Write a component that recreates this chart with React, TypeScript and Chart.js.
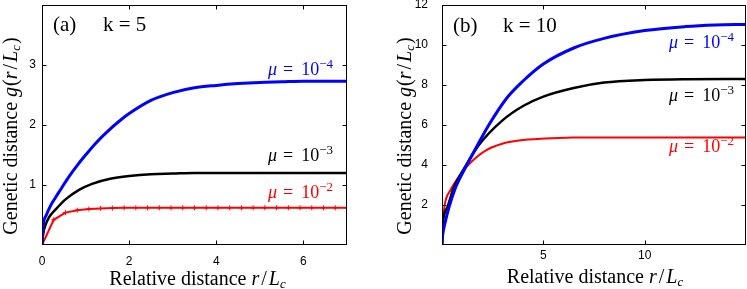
import React, { useEffect, useRef } from "react";
import { Chart, registerables } from "chart.js";

Chart.register(...registerables);

// ---------- Panel (a), k = 5 ----------
const aBlueR = [0, 0.03, 0.1, 0.2, 0.3, 0.45, 0.6, 0.8, 1.0, 1.25, 1.5, 1.75, 2.0, 2.5, 3.0, 3.5, 4.0, 4.5, 5.0, 5.5, 6.0, 6.5, 7.0];
const aBlueG = [0, 0.33, 0.5, 0.66, 0.78, 0.95, 1.12, 1.32, 1.5, 1.71, 1.89, 2.05, 2.19, 2.41, 2.54, 2.62, 2.66, 2.69, 2.71, 2.72, 2.73, 2.73, 2.73];

const aBlackR = [0, 0.03, 0.08, 0.16, 0.31, 0.54, 0.85, 1.15, 1.54, 2.0, 2.5, 3.0, 3.5, 4.0, 5.0, 6.0, 7.0];
const aBlackG = [0, 0.2, 0.33, 0.46, 0.59, 0.76, 0.92, 1.02, 1.1, 1.15, 1.18, 1.19, 1.2, 1.2, 1.2, 1.2, 1.2];

const aRedR = [0, 0.269, 0.538, 0.808, 1.077, 1.346, 1.615, 1.885, 2.154, 2.423, 2.692, 2.962, 3.231, 3.5, 3.769, 4.038, 4.308, 4.577, 4.846, 5.115, 5.385, 5.654, 5.923, 6.192, 6.462, 6.731, 7.0];
const aRedG = [0, 0.42, 0.54, 0.58, 0.6, 0.61, 0.615, 0.62, 0.62, 0.62, 0.62, 0.62, 0.62, 0.62, 0.62, 0.62, 0.62, 0.62, 0.62, 0.62, 0.62, 0.62, 0.62, 0.62, 0.62, 0.62, 0.62];

const aXTicks = [0, 2, 4, 6];
const aYTicks = [1, 2, 3];

// ---------- Panel (b), k = 10 ----------
const bBlueR = [0, 0.04, 0.15, 0.34, 0.67, 1.16, 1.65, 2.31, 3.2, 4.0, 5.0, 6.5, 8.0, 10.0, 12.0, 13.5, 15.0];
const bBlueG = [0, 0.54, 1.1, 1.87, 2.88, 3.88, 4.8, 6.0, 7.35, 8.2, 9.05, 9.85, 10.33, 10.72, 10.92, 11.0, 11.03];

const bBlackR = [0, 0.04, 0.26, 0.58, 1.08, 1.82, 2.97, 4.0, 5.0, 6.5, 8.0, 10.0, 12.0, 15.0];
const bBlackG = [0, 1.04, 1.87, 2.88, 3.8, 5.0, 6.22, 6.95, 7.42, 7.85, 8.12, 8.25, 8.29, 8.3];

const bRedR = [0, 0.05, 0.14, 0.42, 0.75, 1.08, 1.49, 2.15, 2.97, 3.79, 5.1, 6.5, 8.0, 10.0, 12.0, 15.0];
const bRedG = [0, 1.2, 2.04, 2.75, 3.3, 3.75, 4.2, 4.72, 5.06, 5.22, 5.32, 5.37, 5.38, 5.38, 5.38, 5.38];

const bXTicks = [5, 10];
const bYTicks = [2, 4, 6, 8, 10, 12];

// ---------- Texts ----------
const muExponents = ["\u22124", "\u22123", "\u22122"];
const xTitleText = "Relative distance ";
const yTitleText = "Genetic distance ";
const panelA = ["(a)", "k = 5"];
const panelB = ["(b)", "k = 10"];

const SERIF = '"Liberation Serif", "Times New Roman", serif';
const SANS = '"Liberation Sans", Arial, sans-serif';
const f = (size: number, italic = false) => `${italic ? "italic " : ""}${size}px ${SERIF}`;

type Run = { t: string; f: string; dy?: number; pre?: number };

function runsWidth(ctx: CanvasRenderingContext2D, runs: Run[]) {
  let w = 0;
  for (const r of runs) {
    ctx.font = r.f;
    w += (r.pre || 0) + ctx.measureText(r.t).width;
  }
  return w;
}
function drawRuns(ctx: CanvasRenderingContext2D, runs: Run[], x: number, y: number) {
  let cx = x;
  for (const r of runs) {
    ctx.font = r.f;
    cx += r.pre || 0;
    ctx.fillText(r.t, cx, y + (r.dy || 0));
    cx += ctx.measureText(r.t).width;
  }
}

const xTitleRuns: Run[] = [
  { t: xTitleText, f: f(20) },
  { t: "r", f: f(20, true) },
  { t: "/", f: f(20), pre: 2 },
  { t: "L", f: f(20, true), pre: 2 },
  { t: "c", f: f(13, true), dy: 2.5 },
];
const yTitleRuns: Run[] = [
  { t: yTitleText, f: f(20) },
  { t: "g", f: f(20, true) },
  { t: "(", f: f(20), pre: 1 },
  { t: "r", f: f(20, true) },
  { t: "/", f: f(20), pre: 2 },
  { t: "L", f: f(20, true), pre: 2 },
  { t: "c", f: f(13, true), dy: 3 },
  { t: ")", f: f(20), pre: 1 },
];
const muRuns = (exp: string): Run[] => [
  { t: "\u03bc", f: f(18, true) },
  { t: "=", f: f(18), pre: 6 },
  { t: "10", f: f(18), pre: 8 },
  { t: exp, f: f(13), dy: -7 },
];

const decorPlugin = {
  id: "decor",
  afterDraw(chart: any, _args: any, o: any) {
    const ctx: CanvasRenderingContext2D = chart.ctx;
    const ca = chart.chartArea;
    const xs = chart.scales.x;
    const ys = chart.scales.y;
    ctx.save();
    const L = Math.round(ca.left) + 0.5;
    const R = Math.round(ca.right) - 0.5;
    const T = Math.round(ca.top) + 0.5;
    const B = Math.round(ca.bottom) - 0.5;
    ctx.strokeStyle = "#000";
    ctx.lineWidth = 1;
    ctx.strokeRect(L, T, R - L, B - T);
    const tl = 4;
    ctx.beginPath();
    for (const v of o.xTicks) {
      const px = Math.round(xs.getPixelForValue(v)) + 0.5;
      ctx.moveTo(px, B);
      ctx.lineTo(px, B - tl);
      ctx.moveTo(px, T);
      ctx.lineTo(px, T + tl);
    }
    for (const v of o.yTicks) {
      const py = Math.round(ys.getPixelForValue(v)) + 0.5;
      ctx.moveTo(L, py);
      ctx.lineTo(L + tl, py);
      ctx.moveTo(R, py);
      ctx.lineTo(R - tl, py);
    }
    ctx.stroke();

    ctx.fillStyle = "#000";
    ctx.textBaseline = "alphabetic";
    ctx.textAlign = "left";
    const xw = runsWidth(ctx, xTitleRuns);
    drawRuns(ctx, xTitleRuns, o.xTitle.cx - xw / 2, o.xTitle.base);
    const yw = runsWidth(ctx, yTitleRuns);
    ctx.save();
    ctx.translate(o.yTitle.base, o.yTitle.cy);
    ctx.rotate(-Math.PI / 2);
    drawRuns(ctx, yTitleRuns, -yw / 2, 0);
    ctx.restore();
    ctx.font = f(21);
    ctx.fillText(o.panel[0], o.panelX[0], o.panelBase);
    ctx.fillText(o.panel[1], o.panelX[1], o.panelBase);
    o.mu.forEach((m: any, i: number) => {
      ctx.fillStyle = m.color;
      drawRuns(ctx, muRuns(muExponents[i]), m.x, m.base);
    });
    ctx.restore();
  },
};

const pts = (xs: number[], ys: number[]) => xs.map((x, i) => ({ x, y: ys[i] }));

const zeroPad = (s: any) => {
  s.paddingTop = 0;
  s.paddingBottom = 0;
  s.paddingLeft = 0;
  s.paddingRight = 0;
};

function makeConfig(p: any) {
  return {
    type: "scatter",
    data: { datasets: p.datasets },
    options: {
      animation: false,
      responsive: false,
      events: [],
      layout: { padding: { top: 5, right: p.padRight, bottom: 0, left: 0 } },
      plugins: { legend: { display: false }, tooltip: { enabled: false }, decor: p.decor },
      scales: {
        x: {
          type: "linear",
          min: 0,
          max: p.xMax,
          afterBuildTicks: (s: any) => {
            s.ticks = p.xTicks.map((v: number) => ({ value: v }));
          },
          afterFit: (s: any) => {
            s.height = 44;
            zeroPad(s);
          },
          grid: { display: false, drawTicks: false },
          border: { display: false },
          ticks: { font: { family: SANS, size: 12 }, color: "#000", padding: p.xPad, maxRotation: 0, autoSkip: false },
        },
        y: {
          type: "linear",
          min: 0,
          max: p.yMax,
          afterBuildTicks: (s: any) => {
            s.ticks = p.yTicks.map((v: number) => ({ value: v }));
          },
          afterFit: (s: any) => {
            s.width = p.yWidth;
            zeroPad(s);
          },
          grid: { display: false, drawTicks: false },
          border: { display: false },
          ticks: { font: { family: SANS, size: 12 }, color: "#000", padding: p.yPad, autoSkip: false },
        },
      },
    },
    plugins: [decorPlugin],
  };
}

const BLUE = "rgb(0,0,255)";
const RED = "rgb(255,0,0)";
const BLACK = "rgb(0,0,0)";

function lineDs(xs: number[], ys: number[], color: string, width: number, smooth = true) {
  return {
    data: pts(xs, ys),
    showLine: true,
    borderColor: color,
    backgroundColor: color,
    borderWidth: width,
    pointRadius: 0,
    cubicInterpolationMode: smooth ? "monotone" : "default",
    tension: 0,
    fill: false,
  };
}

export default function App() {
  const refA = useRef<HTMLCanvasElement>(null);
  const refB = useRef<HTMLCanvasElement>(null);

  useEffect(() => {
    const redA: any = lineDs(aRedR, aRedG, RED, 2, false);
    redA.pointRadius = 2.5;
    redA.pointStyle = "cross";
    redA.pointBorderWidth = 1;
    redA.pointBorderColor = RED;

    const chartA = new Chart(refA.current as any, makeConfig({
      datasets: [lineDs(aBlueR, aBlueG, BLUE, 3), lineDs(aBlackR, aBlackG, BLACK, 2.5), redA],
      xMax: 7,
      yMax: 4,
      xTicks: aXTicks,
      yTicks: aYTicks,
      yWidth: 42,
      padRight: 27,
      xPad: 9,
      yPad: 6,
      decor: {
        xTicks: aXTicks,
        yTicks: aYTicks,
        xTitle: { cx: 197.5, base: 285 },
        yTitle: { base: 17, cy: 136 },
        panel: panelA,
        panelX: [53, 103],
        panelBase: 31,
        mu: [
          { color: BLUE, x: 268, base: 75 },
          { color: BLACK, x: 268, base: 160.5 },
          { color: RED, x: 268, base: 197.5 },
        ],
      },
    }) as any);

    const chartB = new Chart(refB.current as any, makeConfig({
      datasets: [lineDs(bBlueR, bBlueG, BLUE, 3), lineDs(bBlackR, bBlackG, BLACK, 2.5), lineDs(bRedR, bRedG, RED, 2)],
      xMax: 15,
      yMax: 12,
      xTicks: bXTicks,
      yTicks: bYTicks,
      yWidth: 68,
      padRight: 1,
      xPad: 3,
      yPad: 14,
      decor: {
        xTicks: bXTicks,
        yTicks: bYTicks,
        xTitle: { cx: 221, base: 283 },
        yTitle: { base: 37, cy: 136 },
        panel: panelB,
        panelX: [79, 129],
        panelBase: 31.5,
        mu: [
          { color: BLUE, x: 295, base: 48 },
          { color: BLACK, x: 295, base: 100.5 },
          { color: RED, x: 295, base: 151.5 },
        ],
      },
    }) as any);

    return () => {
      chartA.destroy();
      chartB.destroy();
    };
  }, []);

  return (
    <div style={{ position: "fixed", left: 0, top: 0, width: 747, height: 289, background: "#fff" }}>
      <canvas ref={refA} width={374} height={289} style={{ position: "absolute", left: 0, top: 0, width: 374, height: 289 }} />
      <canvas ref={refB} width={373} height={289} style={{ position: "absolute", left: 374, top: 0, width: 373, height: 289 }} />
    </div>
  );
}
